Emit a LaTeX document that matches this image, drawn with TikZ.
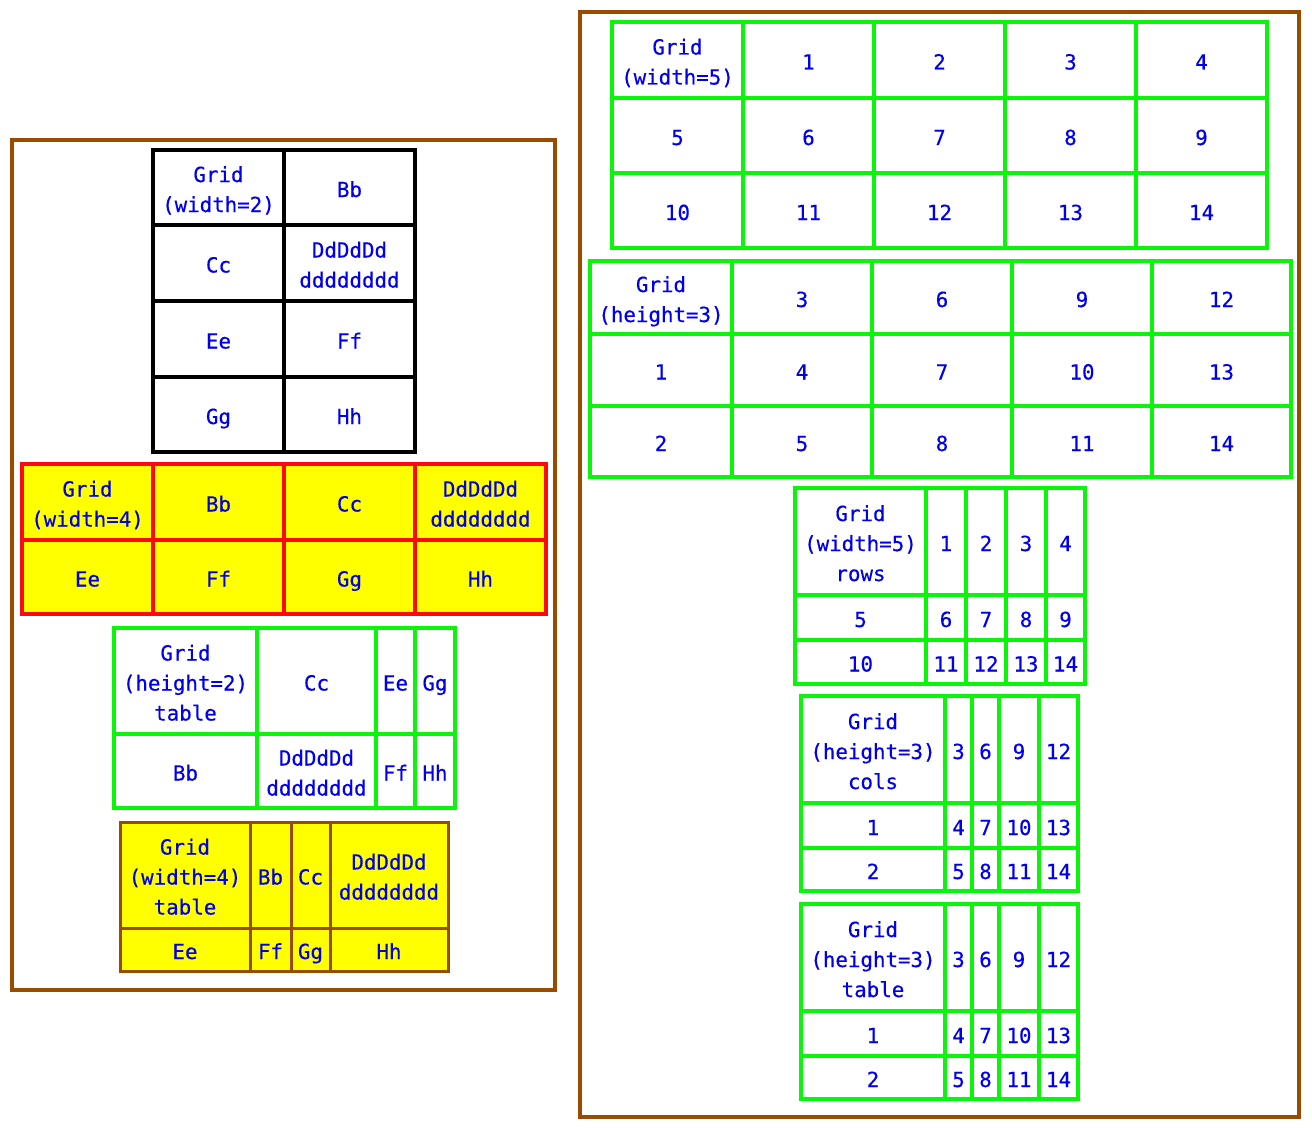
\documentclass[tikz,border=0pt]{standalone}
\usepackage{fontspec}
\setmonofont[FakeBold=0.4]{DejaVu Sans Mono}
\definecolor{brn}{RGB}{153,76,0}
\definecolor{grn}{RGB}{10,245,10}
\definecolor{rd}{RGB}{250,10,10}
\definecolor{yl}{RGB}{255,255,0}
\definecolor{txt}{RGB}{0,0,235}
\newcommand\cstrut{\rule[-5pt]{0pt}{29pt}}
\newcommand\br{\\\cstrut}
\tikzset{
  cellbase/.style={inner sep=0pt, outer sep=0pt, align=center, text=txt,
    font=\ttfamily\fontsize{20.8}{30}\selectfont},
  blackcell/.style={cellbase, draw=black, line width=3.2pt},
  redcell/.style={cellbase, draw=rd, fill=yl, line width=3.2pt},
  greencell/.style={cellbase, draw=grn, line width=3.5pt},
  browncell/.style={cellbase, draw=brn, fill=yl, line width=3pt},
  outerbox/.style={draw=brn, line width=4pt},
}
% name, x1, y1, x2, y2, style, text
\newcommand\gcell[7]{%
  \pgfmathsetmacro\gw{#4-#2}\pgfmathsetmacro\gh{#5-#3}%
  \node[#6, minimum width=\gw pt, minimum height=\gh pt] (#1) at ({(#2+#4)/2},{(#3+#5)/2}) {\cstrut#7};}
% prefix, xs, ys, ncols-1, nrows-1, formula, header, style
\newcommand\mkgrid[8]{%
  \foreach \c in {0,...,#4}{\foreach \r in {0,...,#5}{%
    \pgfmathsetmacro\xa{#2[\c]}\pgfmathsetmacro\xb{#2[\c+1]}%
    \pgfmathsetmacro\ya{#3[\r]}\pgfmathsetmacro\yb{#3[\r+1]}%
    \pgfmathtruncatemacro\nn{#6}%
    \ifnum\nn=0 \def\lab{#7}\else\let\lab\nn\fi
    \gcell{#1-\r-\c}{\xa}{\ya}{\xb}{\yb}{#8}{\lab}%
  }}}
\begin{document}
\begin{tikzpicture}[x=1pt,y=-1pt]
\useasboundingbox (0,0) rectangle (1312,1129);
% outer boxes
\node[outerbox, inner sep=0pt, minimum width=543pt, minimum height=850pt] (leftbox) at (283.5,565) {};
\node[outerbox, inner sep=0pt, minimum width=719pt, minimum height=1105pt] (rightbox) at (939.5,564.5) {};
% grid 1 (black, width=2)
\gcell{a1}{153}{150}{284}{225}{blackcell}{Grid\br(width=2)}
\gcell{a2}{284}{150}{415}{225}{blackcell}{Bb}
\gcell{a3}{153}{225}{284}{301}{blackcell}{Cc}
\gcell{a4}{284}{225}{415}{301}{blackcell}{DdDdDd\br dddddddd}
\gcell{a5}{153}{301}{284}{377}{blackcell}{Ee}
\gcell{a6}{284}{301}{415}{377}{blackcell}{Ff}
\gcell{a7}{153}{377}{284}{452}{blackcell}{Gg}
\gcell{a8}{284}{377}{415}{452}{blackcell}{Hh}
% grid 2 (red/yellow, width=4)
\gcell{b1}{22}{464}{153}{540}{redcell}{Grid\br(width=4)}
\gcell{b2}{153}{464}{284}{540}{redcell}{Bb}
\gcell{b3}{284}{464}{415}{540}{redcell}{Cc}
\gcell{b4}{415}{464}{546}{540}{redcell}{DdDdDd\br dddddddd}
\gcell{b5}{22}{540}{153}{614}{redcell}{Ee}
\gcell{b6}{153}{540}{284}{614}{redcell}{Ff}
\gcell{b7}{284}{540}{415}{614}{redcell}{Gg}
\gcell{b8}{415}{540}{546}{614}{redcell}{Hh}
% grid 3 (green, height=2 table)
\gcell{c1}{114}{628}{257}{734}{greencell}{Grid\br(height=2)\br table}
\gcell{c2}{257}{628}{376}{734}{greencell}{Cc}
\gcell{c3}{376}{628}{415}{734}{greencell}{Ee}
\gcell{c4}{415}{628}{455}{734}{greencell}{Gg}
\gcell{c5}{114}{734}{257}{808}{greencell}{Bb}
\gcell{c6}{257}{734}{376}{808}{greencell}{DdDdDd\br dddddddd}
\gcell{c7}{376}{734}{415}{808}{greencell}{Ff}
\gcell{c8}{415}{734}{455}{808}{greencell}{Hh}
% grid 4 (brown/yellow, width=4 table)
\gcell{d1}{120}{822}{250}{928}{browncell}{Grid\br(width=4)\br table}
\gcell{d2}{250}{822}{291}{928}{browncell}{Bb}
\gcell{d3}{291}{822}{330}{928}{browncell}{Cc}
\gcell{d4}{330}{822}{448}{928}{browncell}{DdDdDd\br dddddddd}
\gcell{d5}{120}{928}{250}{971}{browncell}{Ee}
\gcell{d6}{250}{928}{291}{971}{browncell}{Ff}
\gcell{d7}{291}{928}{330}{971}{browncell}{Gg}
\gcell{d8}{330}{928}{448}{971}{browncell}{Hh}
% numeric grids
\def\xsE{{612,743,874,1005,1136,1267}}\def\ysE{{22,98,173,248}}
\mkgrid{e}{\xsE}{\ysE}{4}{2}{5*\r+\c}{Grid\br(width=5)}{greencell}
\def\xsF{{590,732,872,1012,1152,1291}}\def\ysF{{261,334,406,477}}
\mkgrid{f}{\xsF}{\ysF}{4}{2}{3*\c+\r}{Grid\br(height=3)}{greencell}
\def\xsG{{795,926,966,1006,1046,1085}}\def\ysG{{488,595,640,684}}
\mkgrid{g}{\xsG}{\ysG}{4}{2}{5*\r+\c}{Grid\br(width=5)\br rows}{greencell}
\def\xsH{{801,945,972,999,1039,1078}}\def\ysH{{696,803,848,891}}
\mkgrid{h}{\xsH}{\ysH}{4}{2}{3*\c+\r}{Grid\br(height=3)\br cols}{greencell}
\def\ysI{{904,1011,1056,1099}}
\mkgrid{i}{\xsH}{\ysI}{4}{2}{3*\c+\r}{Grid\br(height=3)\br table}{greencell}
\end{tikzpicture}
\end{document}
